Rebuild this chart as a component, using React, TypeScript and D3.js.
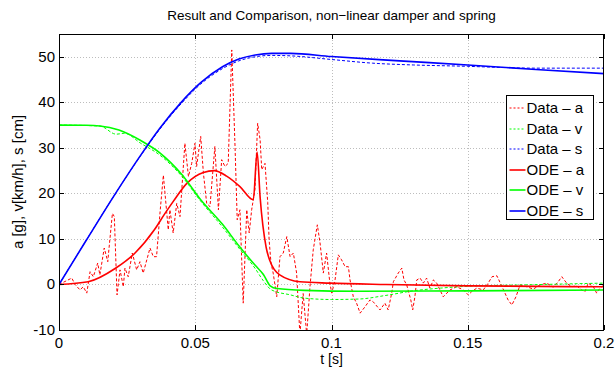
import React, { useEffect, useRef } from 'react';
import * as d3 from 'd3';

// axis ticks
const timeTicks = [0, 0.05, 0.1, 0.15, 0.2];
const valueTicks = [-10, 0, 10, 20, 30, 40, 50];

// measured acceleration [g] (noisy)
const dataA: [number, number][] = [
  [0, 0], [0.0047, 1.4], [0.0059, 0], [0.0077, -1.2], [0.0089, -0.5], [0.0102, -1.9],
  [0.0114, 2.8], [0.0126, 1.7], [0.0142, 4.7], [0.015, 2.1], [0.0166, 8.0], [0.0179, 5.0],
  [0.0183, 7.6], [0.0196, 15.6], [0.0203, 14.9], [0.0213, -2.3], [0.0224, 3.2], [0.0236, -0.5],
  [0.0242, 3.6], [0.0254, 1.7], [0.0269, 6.9], [0.0285, 3.2], [0.0297, 5.0], [0.0309, 2.5],
  [0.0334, 8.0], [0.0346, 6.1], [0.0358, 6.1], [0.0371, 16.0], [0.0383, 24.0], [0.0401, 12.0],
  [0.0407, 16.4], [0.0419, 11.3], [0.0432, 17.8], [0.0444, 14.9], [0.0462, 31.0], [0.0475, 23.7],
  [0.0487, 26.6], [0.0499, 31.0], [0.0505, 25.9], [0.052, 32.5], [0.053, 24.4], [0.0542, 17.8],
  [0.0554, 17.1], [0.0572, 30.3], [0.0585, 16.4], [0.0597, 27.4], [0.0609, 25.9], [0.0621, 26.6],
  [0.0634, 51.5], [0.0646, 30.3], [0.0654, 14.2], [0.0664, 16.4], [0.0676, -4.1], [0.0689, 16.4],
  [0.0698, 11.3], [0.0707, 16.4], [0.0719, 20.8], [0.0729, 35.4], [0.0738, 31.8], [0.0744, 25.2],
  [0.0756, 26.6], [0.0766, 18.0], [0.0771, 9.8], [0.0778, 4.7], [0.0786, 2.5], [0.0799, -2.7],
  [0.0811, 6.1], [0.0823, 6.9], [0.0836, 10.5], [0.0848, 6.1], [0.086, 6.9], [0.0872, 2.5],
  [0.0884, -11], [0.0896, -2.0], [0.0909, -11], [0.0921, -0.5], [0.0933, 7.6], [0.0948, 13.1],
  [0.0958, 9.1], [0.097, 2.5], [0.0982, 6.9], [0.0994, 0.3], [0.1001, -1.9], [0.1013, 1.0],
  [0.1025, 6.5], [0.1037, 5.4], [0.105, 3.9], [0.1062, 3.9], [0.1068, 1.0], [0.108, -2.7],
  [0.1092, -4.1], [0.1105, -6.3], [0.1123, -4.9], [0.1141, -3.4], [0.1153, -3.8], [0.1178, -5.6],
  [0.1196, -4.1], [0.1208, -5.6], [0.1221, -1.9], [0.1227, 0.6], [0.1245, 2.5], [0.1258, 3.6],
  [0.1266, 1.0], [0.1276, -0.1], [0.1291, -3.4], [0.1298, -5.6], [0.1306, -2.7], [0.1313, 1.0],
  [0.1325, 1.4], [0.1337, 0.3], [0.1349, 1.4], [0.1361, -0.8], [0.1374, 1.0], [0.1386, 0.3],
  [0.141, -2.7], [0.1435, -1.2], [0.1459, -0.5], [0.1484, -1.2], [0.1502, -2.3], [0.1514, -1.6],
  [0.1533, -0.8], [0.1557, -1.2], [0.1575, 0.3], [0.1589, 1.7], [0.1607, 1.9], [0.1626, -0.5],
  [0.1648, -3.4], [0.1662, -4.5], [0.1677, -2.7], [0.1692, -0.1], [0.1716, -0.5], [0.1741, -1.0],
  [0.1765, -0.1], [0.179, 0.3], [0.1814, -0.6], [0.1832, 0.6], [0.1845, 1.7], [0.1863, 0.3],
  [0.1881, -0.5], [0.19, -0.3], [0.1918, -1.2], [0.193, -1.6], [0.1942, 0.3], [0.1961, -0.5],
  [0.1973, -1.9], [0.1985, -0.8], [0.2, -0.1],
];

// measured velocity [km/h]
const dataV: [number, number][] = [
  [0, 35], [0.015, 34.8], [0.021, 33.0], [0.024, 33.2], [0.03, 31.0], [0.037, 28.4],
  [0.045, 23.8], [0.052, 18.3], [0.06, 12.6], [0.066, 8.0], [0.072, 3.5], [0.075, 0.8],
  [0.078, -1.2], [0.085, -2.3], [0.09, -3.0], [0.1, -3.3], [0.11, -3.2], [0.12, -2.4],
  [0.13, -1.4], [0.14, -0.8], [0.15, -0.4], [0.17, -0.1], [0.185, 0.1], [0.2, 0.3],
];

// measured displacement [cm]
const dataS: [number, number][] = [
  [0, 0], [0.01, 9.7], [0.02, 19.3], [0.03, 28.3], [0.037, 34.1], [0.045, 39.8],
  [0.052, 44.0], [0.06, 47.4], [0.066, 49.1], [0.072, 50.0], [0.078, 50.3], [0.085, 50.2],
  [0.1, 49.4], [0.115, 48.6], [0.13, 48.2], [0.15, 47.9], [0.16, 47.7], [0.175, 47.5], [0.2, 47.5],
];

// ODE model results
const odeA: [number, number][] = [
  [0, 0], [0.0107, 0.6], [0.0206, 3.5], [0.0279, 6.9], [0.035, 12.0], [0.0389, 15.6],
  [0.042, 18.3], [0.0469, 22.2], [0.053, 24.6], [0.057, 25.0], [0.0615, 23.8], [0.0664, 21.5],
  [0.0713, 18.6], [0.0727, 29.1], [0.0738, 19.2], [0.076, 8.2], [0.0774, 5.2], [0.081, 2.1],
  [0.0884, 0.6], [0.0994, 0.3], [0.12, 0], [0.15, -0.3], [0.2, -0.5],
];

const odeV: [number, number][] = [
  [0, 35], [0.01, 34.95], [0.015, 34.8], [0.022, 33.9], [0.03, 31.6], [0.037, 28.9],
  [0.045, 24.2], [0.052, 18.6], [0.06, 13.2], [0.066, 8.5], [0.072, 4.2], [0.075, 2.2],
  [0.0775, -0.3], [0.08, -0.9], [0.09, -1.3], [0.11, -1.5], [0.15, -1.4], [0.2, -1.2],
];

const odeS: [number, number][] = [
  [0, 0], [0.01, 9.7], [0.02, 19.3], [0.03, 28.4], [0.037, 34.3], [0.045, 40.1],
  [0.052, 44.3], [0.06, 47.8], [0.066, 49.5], [0.072, 50.4], [0.078, 50.75], [0.085, 50.75],
  [0.1, 50.05], [0.125, 49.1], [0.15, 48.2], [0.175, 47.2], [0.2, 46.3],
];

const seriesNames = ['Data \u2013 a', 'Data \u2013 v', 'Data \u2013 s', 'ODE \u2013 a', 'ODE \u2013 v', 'ODE \u2013 s'];

const App: React.FC = () => {
  const chartRef = useRef<SVGSVGElement | null>(null);

  useEffect(() => {
    document.body.style.margin = '0';
    const width = 616;
    const height = 368;
    const margin = { top: 34, right: 12, bottom: 38, left: 59 };

    const svg = d3.select(chartRef.current);
    svg.selectAll('*').remove();
    svg.attr('width', width).attr('height', height);

    const x = d3.scaleLinear().domain([0, 0.2]).range([margin.left, width - margin.right]);
    const y = d3.scaleLinear().domain([-10, 55]).range([height - margin.bottom, margin.top]);
    const font = 'Liberation Sans, Arial, sans-serif';

    svg.append('rect').attr('width', width).attr('height', height).attr('fill', 'white');

    // grid
    const grid = svg.append('g').attr('stroke', '#bdbdbd').attr('stroke-width', 1).attr('stroke-dasharray', '1,2');
    timeTicks.slice(1, -1).forEach(t => {
      grid.append('line').attr('x1', Math.round(x(t)) + 0.5).attr('x2', Math.round(x(t)) + 0.5)
        .attr('y1', y(55)).attr('y2', y(-10));
    });
    valueTicks.slice(1).forEach(v => {
      grid.append('line').attr('y1', Math.round(y(v)) + 0.5).attr('y2', Math.round(y(v)) + 0.5)
        .attr('x1', x(0)).attr('x2', x(0.2));
    });

    svg.append('clipPath').attr('id', 'plot-clip')
      .append('rect').attr('x', x(0)).attr('y', y(55)).attr('width', x(0.2) - x(0)).attr('height', y(-10) - y(55));

    const line = d3.line<[number, number]>().x(d => x(d[0])).y(d => y(d[1]));
    const plot = svg.append('g').attr('clip-path', 'url(#plot-clip)').attr('fill', 'none');

    const styles = [
      { data: dataA, color: '#ff0000', dash: '3,2', w: 1 },
      { data: dataV, color: '#00ff00', dash: '3,2', w: 1 },
      { data: dataS, color: '#0000ff', dash: '3,2', w: 1 },
      { data: odeA, color: '#ff0000', dash: null, w: 1.6 },
      { data: odeV, color: '#00ff00', dash: null, w: 1.6 },
      { data: odeS, color: '#0000ff', dash: null, w: 1.6 },
    ];
    styles.forEach(s => {
      const curve = s.data === dataA ? d3.curveLinear : d3.curveMonotoneX;
      plot.append('path')
        .attr('d', line.curve(curve)(s.data))
        .attr('stroke', s.color)
        .attr('stroke-width', s.w)
        .attr('stroke-dasharray', s.dash)
        .attr('stroke-linejoin', 'round');
    });

    // frame + ticks on all sides
    const frame = svg.append('g').attr('stroke', 'black').attr('stroke-width', 1);
    frame.append('rect').attr('x', x(0) + 0.5).attr('y', y(55) + 0.5)
      .attr('width', x(0.2) - x(0) - 1).attr('height', y(-10) - y(55)).attr('fill', 'none');
    timeTicks.forEach(t => {
      const px = Math.round(x(t)) + 0.5;
      frame.append('line').attr('x1', px).attr('x2', px).attr('y1', y(-10)).attr('y2', y(-10) - 5);
      frame.append('line').attr('x1', px).attr('x2', px).attr('y1', y(55)).attr('y2', y(55) + 5);
    });
    valueTicks.forEach(v => {
      const py = Math.round(y(v)) + 0.5;
      frame.append('line').attr('y1', py).attr('y2', py).attr('x1', x(0)).attr('x2', x(0) + 5);
      frame.append('line').attr('y1', py).attr('y2', py).attr('x1', x(0.2)).attr('x2', x(0.2) - 5);
    });

    // tick labels
    svg.append('g').selectAll('text').data(timeTicks).enter().append('text')
      .attr('x', d => x(d)).attr('y', y(-10) + 18)
      .attr('text-anchor', 'middle').attr('font-family', font).attr('font-size', 15)
      .text(d => String(d));
    svg.append('g').selectAll('text').data(valueTicks).enter().append('text')
      .attr('x', x(0) - 4).attr('y', d => y(d) + 5)
      .attr('text-anchor', 'end').attr('font-family', font).attr('font-size', 15)
      .text(d => String(d));

    // title and axis labels
    svg.append('text').attr('x', (x(0) + x(0.2)) / 2).attr('y', 20)
      .attr('text-anchor', 'middle').attr('font-family', font).attr('font-size', 13.5)
      .text('Result and Comparison, non\u2212linear damper and spring');
    svg.append('text').attr('x', (x(0) + x(0.2)) / 2).attr('y', 364)
      .attr('text-anchor', 'middle').attr('font-family', font).attr('font-size', 14)
      .text('t [s]');
    svg.append('text').attr('transform', `translate(23,${(y(-10) + y(55)) / 2}) rotate(-90)`)
      .attr('text-anchor', 'middle').attr('font-family', font).attr('font-size', 15)
      .text('a [g], v[km/h], s [cm]');

    // legend
    const lg = svg.append('g').attr('transform', 'translate(506.5,95.5)');
    lg.append('rect').attr('width', 87).attr('height', 124).attr('fill', 'white').attr('stroke', 'black');
    styles.forEach((s, i) => {
      const ly = Math.round(12 + i * 20.5) + 0.5;
      lg.append('line').attr('x1', 3).attr('x2', 19).attr('y1', ly).attr('y2', ly)
        .attr('stroke', s.color).attr('stroke-width', s.dash ? 1.2 : 1.6)
        .attr('stroke-dasharray', s.dash ? '2,2' : null);
      lg.append('text').attr('x', 20).attr('y', ly + 5)
        .attr('font-family', font).attr('font-size', 15).text(seriesNames[i]);
    });
  }, []);

  return (
    <div>
      <svg ref={chartRef} style={{ display: 'block' }}></svg>
    </div>
  );
};

export default App;
